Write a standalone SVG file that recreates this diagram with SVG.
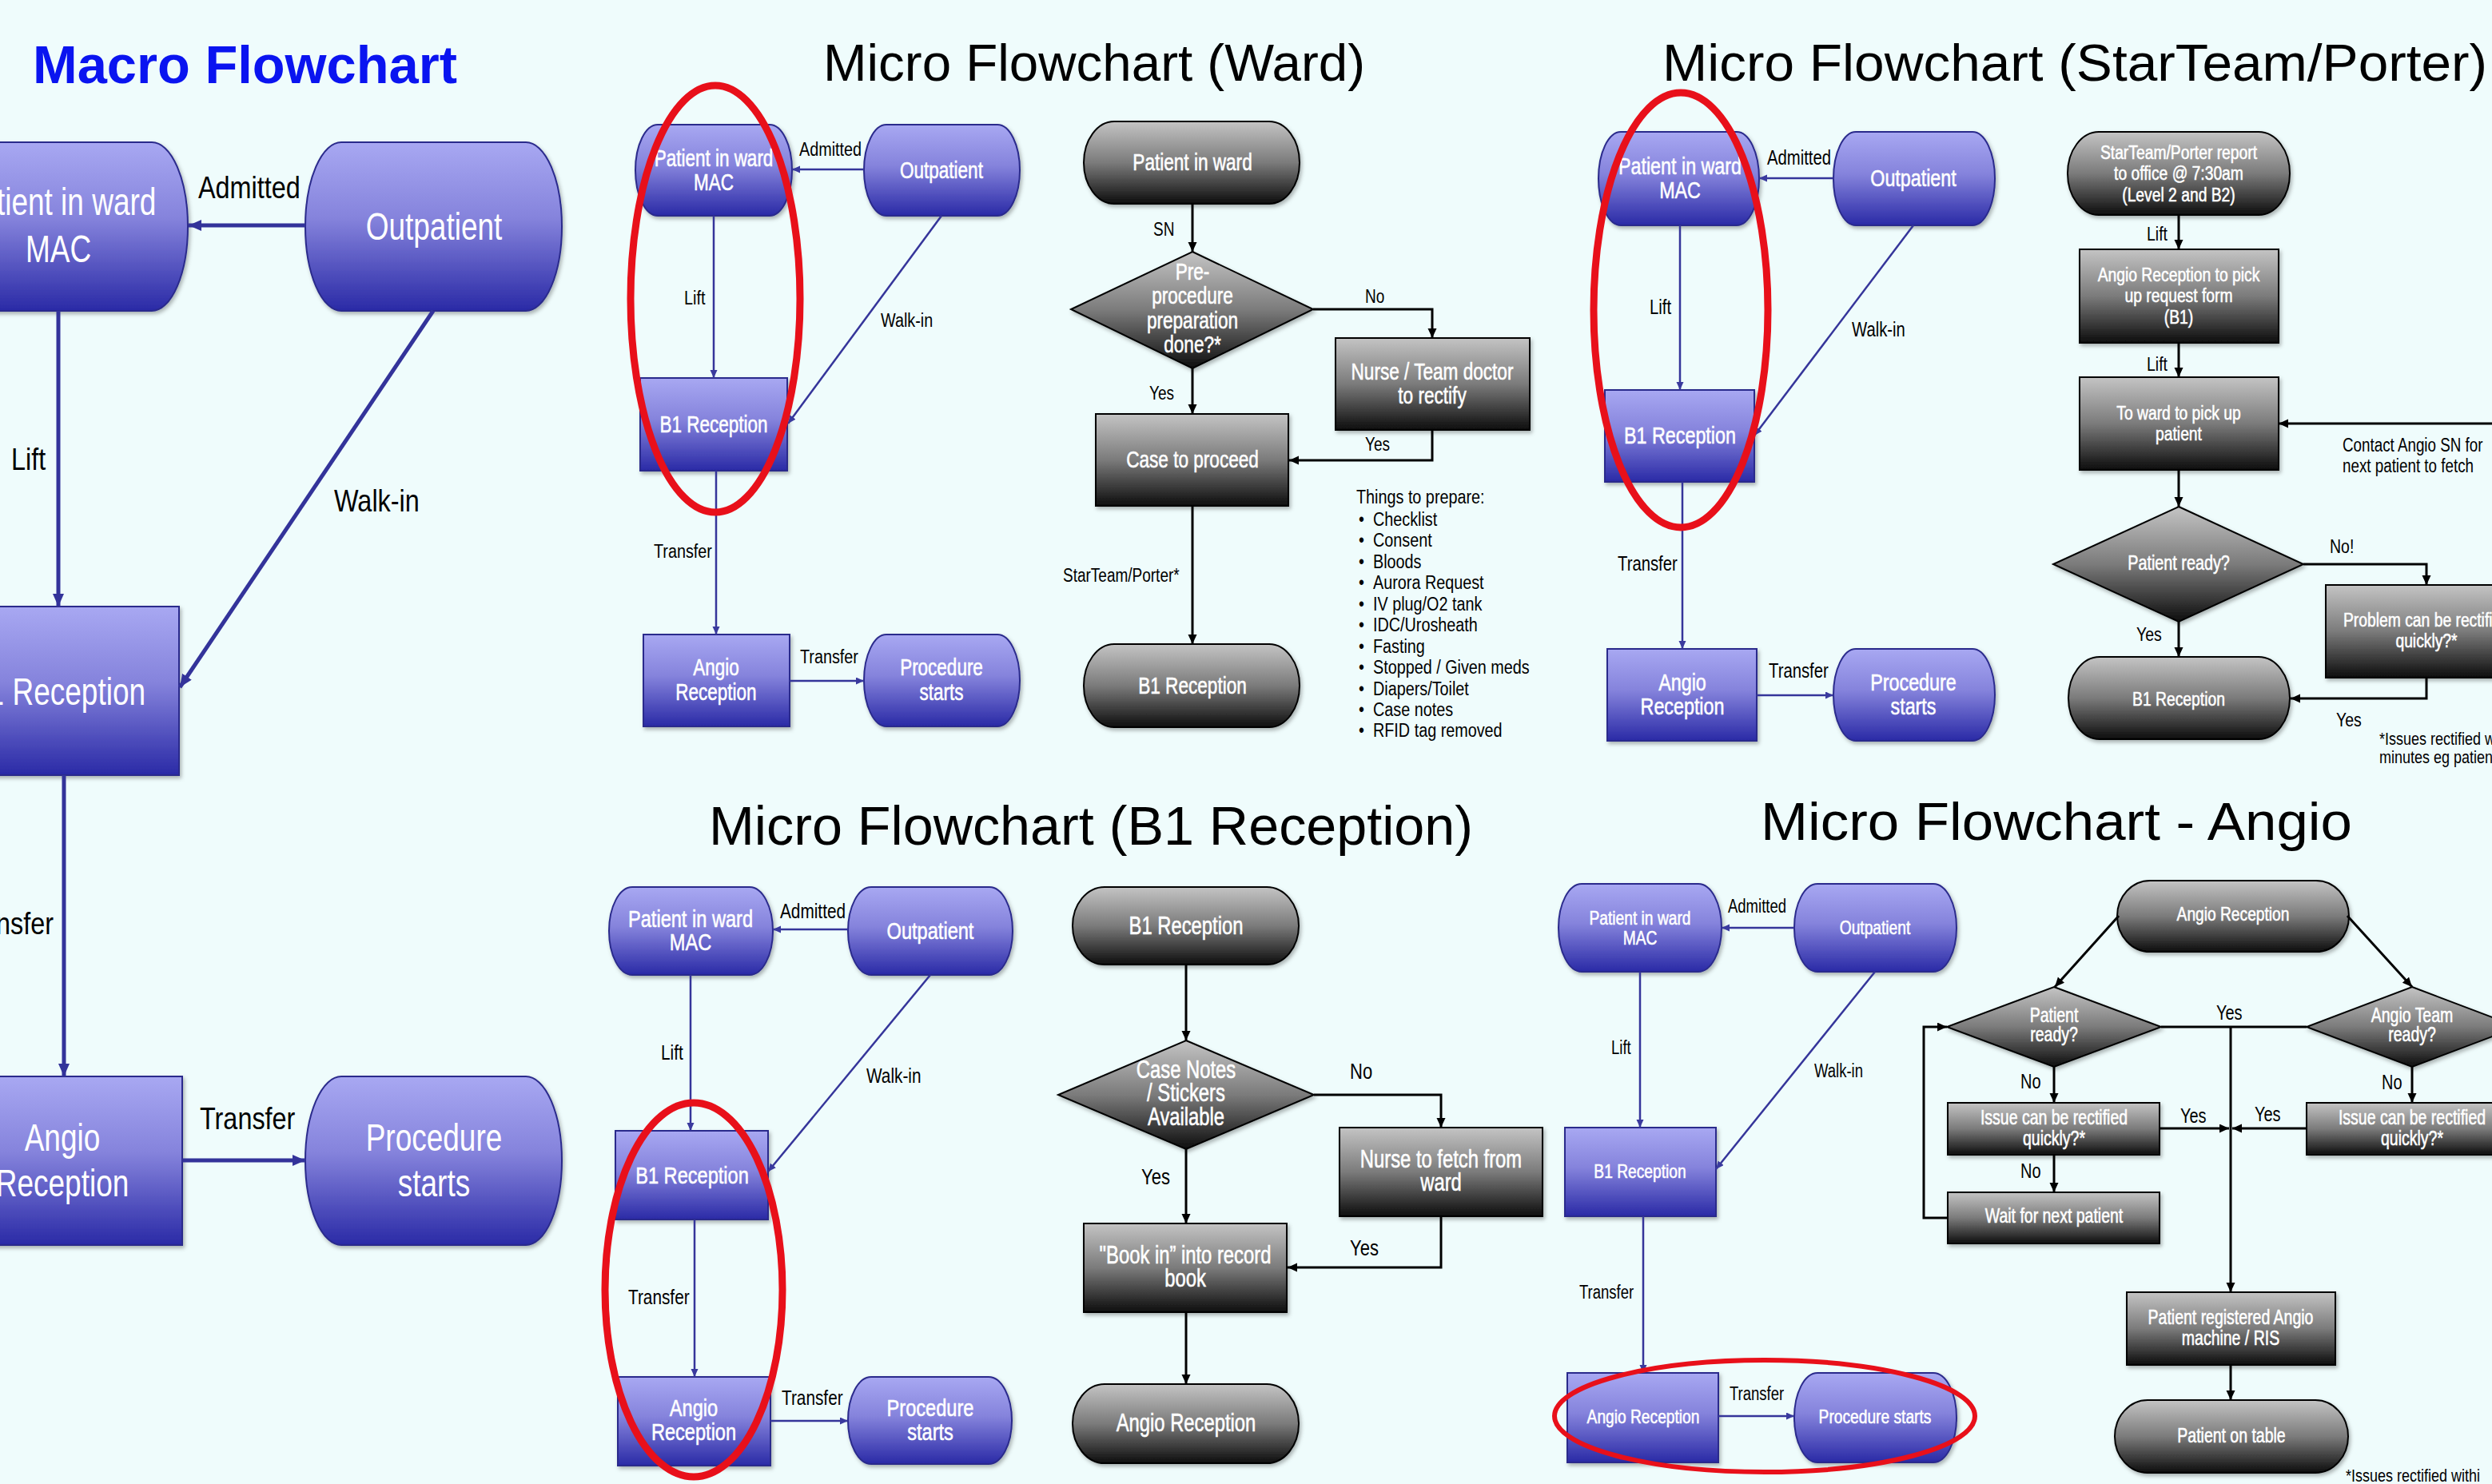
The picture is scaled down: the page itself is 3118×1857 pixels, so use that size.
<svg xmlns="http://www.w3.org/2000/svg" width="3118" height="1857" viewBox="0 0 3118 1857">
<defs>
<linearGradient id="gBlue" x1="0" y1="0" x2="0" y2="1">
<stop offset="0" stop-color="#a8a8f2"/>
<stop offset="0.45" stop-color="#8583dc"/>
<stop offset="1" stop-color="#2a2aa6"/>
</linearGradient>
<linearGradient id="gGrey" x1="0" y1="0" x2="0" y2="1">
<stop offset="0" stop-color="#c4c4c4"/>
<stop offset="0.5" stop-color="#7b7b7b"/>
<stop offset="1" stop-color="#0d0d0d"/>
</linearGradient>
<filter id="shadow" x="-10%" y="-10%" width="125%" height="135%">
<feDropShadow dx="2" dy="3" stdDeviation="2.5" flood-color="#000" flood-opacity="0.3"/>
</filter>
<marker id="arrBlueL" markerUnits="userSpaceOnUse" markerWidth="18" markerHeight="16" refX="16" refY="7" orient="auto"><path d="M0,0 L16,7 L0,14 z" fill="#33339a"/></marker>
<marker id="arrBlue" markerUnits="userSpaceOnUse" markerWidth="12" markerHeight="10" refX="10" refY="4.5" orient="auto"><path d="M0,0 L10,4.5 L0,9 z" fill="#3a3a9e"/></marker>
<marker id="arrBlack" markerUnits="userSpaceOnUse" markerWidth="14" markerHeight="12" refX="12" refY="5.5" orient="auto"><path d="M0,0 L12,5.5 L0,11 z" fill="#000"/></marker>
</defs>
<style>
text{font-family:"Liberation Sans",Arial,Helvetica,sans-serif}
.nb{fill:url(#gBlue);stroke:#2c2c8c;stroke-width:2;filter:url(#shadow)}
.ng{fill:url(#gGrey);stroke:#000;stroke-width:2;filter:url(#shadow)}
.cb{fill:none;stroke:#35359a;stroke-width:2.5;marker-end:url(#arrBlue)}
.cbL{fill:none;stroke:#33339a;stroke-width:5;marker-end:url(#arrBlueL)}
.ck{fill:none;stroke:#000;stroke-width:3;marker-end:url(#arrBlack)}
.ckn{fill:none;stroke:#000;stroke-width:3}
.ring{fill:none;stroke:#e8101a;stroke-width:9}
.w{fill:#fff;text-anchor:middle;stroke:#fff;stroke-width:0.45}
.wm{fill:#fff;text-anchor:middle}
.k{fill:#000}
.ttl{fill:#000}
.f37{font-size:37px}.f32{font-size:32.4px}
.f225{font-size:22.5px}.f226{font-size:22.6px}.f198{font-size:19.8px}.f19{font-size:19px}
.f233{font-size:23.3px}.f203{font-size:20.3px}.f193{font-size:19.3px}.f188{font-size:18.8px}.f18{font-size:18px}
.f236{font-size:23.6px}.f208{font-size:20.8px}.f238{font-size:23.8px}.f22{font-size:22px}
.f192{font-size:19.2px}.f185{font-size:18.5px}.f20{font-size:20px}.f195{font-size:19.5px}
</style>

<!-- page background -->
<rect x="0" y="0" width="3118" height="1857" fill="#effcfc"/>

<!-- ============ Macro flowchart ============ -->
<g id="macro">
<text id="macro-title" x="41" y="104" font-size="66" font-weight="bold" fill="#0a14f0" textLength="531" lengthAdjust="spacingAndGlyphs">Macro Flowchart</text>
<g id="macro-ward"><rect class="nb" x="-88" y="178" width="323" height="211" rx="45" ry="105.5"/><text class="wm f37" transform="translate(73 269) scale(1 1.3)"><tspan x="0">Patient in ward</tspan><tspan x="0" dy="45.4">MAC</tspan></text></g>
<g id="macro-outpatient"><rect class="nb" x="382" y="178" width="321" height="211" rx="45" ry="105.5"/><text class="wm f37" transform="translate(543 300) scale(1 1.3)">Outpatient</text></g>
<g id="macro-b1"><rect class="nb" x="-74" y="759" width="298" height="211"/><text class="wm f37" transform="translate(71 882) scale(1 1.3)">B1 Reception</text></g>
<g id="macro-angio"><rect class="nb" x="-72" y="1347" width="300" height="211"/><text class="wm f37" transform="translate(78 1440) scale(1 1.3)"><tspan x="0">Angio</tspan><tspan x="0" dy="43.8">Reception</tspan></text></g>
<g id="macro-procedure"><rect class="nb" x="382" y="1347" width="321" height="211" rx="45" ry="105.5"/><text class="wm f37" transform="translate(543 1440) scale(1 1.3)"><tspan x="0">Procedure</tspan><tspan x="0" dy="43.8">starts</tspan></text></g>
<g id="macro-connectors">
<path class="cbL" d="M382,282 H236"/>
<path class="cbL" d="M73,389 V759"/>
<path class="cbL" d="M542,389 L225,860"/>
<path class="cbL" d="M80,970 V1347"/>
<path class="cbL" d="M228,1452 H382"/>
<text class="k f32" transform="translate(248 248) scale(1 1.18)">Admitted</text>
<text class="k f32" transform="translate(14 588) scale(1 1.18)">Lift</text>
<text class="k f32" transform="translate(418 640) scale(1 1.18)">Walk-in</text>
<text class="k f32" text-anchor="end" transform="translate(67 1169) scale(1 1.18)">Transfer</text>
<text class="k f32" transform="translate(250 1413) scale(1 1.18)">Transfer</text>
</g>
</g>

<!-- ============ Ward: blue overview ============ -->
<g id="ward">
<text id="ward-title" class="ttl" x="1030" y="101" font-size="65" textLength="678" lengthAdjust="spacingAndGlyphs">Micro Flowchart (Ward)</text>
<g id="ward-mac"><rect class="nb" x="795" y="156" width="196" height="114" rx="28" ry="57"/><text class="w f225" transform="translate(893 208) scale(1 1.28)"><tspan x="0">Patient in ward</tspan><tspan x="0" dy="23.4">MAC</tspan></text></g>
<g id="ward-outpatient"><rect class="nb" x="1081" y="156" width="195" height="114" rx="28" ry="57"/><text class="w f225" transform="translate(1178 223) scale(1 1.28)">Outpatient</text></g>
<g id="ward-b1"><rect class="nb" x="801" y="473" width="184" height="116"/><text class="w f225" transform="translate(893 541) scale(1 1.28)">B1 Reception</text></g>
<g id="ward-angio"><rect class="nb" x="805" y="794" width="183" height="115"/><text class="w f225" transform="translate(896 845) scale(1 1.28)"><tspan x="0">Angio</tspan><tspan x="0" dy="24.2">Reception</tspan></text></g>
<g id="ward-procedure"><rect class="nb" x="1081" y="794" width="195" height="115" rx="28" ry="57.5"/><text class="w f225" transform="translate(1178 845) scale(1 1.28)"><tspan x="0">Procedure</tspan><tspan x="0" dy="24.2">starts</tspan></text></g>
<g id="ward-overview-connectors">
<path class="cb" d="M1081,212 H991"/>
<path class="cb" d="M893,270 V473"/>
<path class="cb" d="M1178,270 L986,530"/>
<path class="cb" d="M896,589 V794"/>
<path class="cb" d="M988,852 H1081"/>
<text class="k f198" transform="translate(1000 195) scale(1 1.25)">Admitted</text>
<text class="k f198" transform="translate(856 381) scale(1 1.25)">Lift</text>
<text class="k f198" transform="translate(1102 409) scale(1 1.25)">Walk-in</text>
<text class="k f198" transform="translate(818 698) scale(1 1.25)">Transfer</text>
<text class="k f198" transform="translate(1001 830) scale(1 1.25)">Transfer</text>
</g>
<ellipse id="ward-highlight" class="ring" cx="895" cy="374" rx="106" ry="267"/>

<!-- ward detail (grey) -->
<g id="ward-start"><rect class="ng" x="1356" y="152" width="270" height="103" rx="38" ry="51.5"/><text class="w f226" transform="translate(1492 213) scale(1 1.28)">Patient in ward</text></g>
<g id="ward-check"><polygon class="ng" points="1492,315 1643,387 1492,461 1340,387"/><text class="w f226" transform="translate(1492 350) scale(1 1.28)"><tspan x="0">Pre-</tspan><tspan x="0" dy="23.7">procedure</tspan><tspan x="0" dy="23.7">preparation</tspan><tspan x="0" dy="23.7">done?*</tspan></text></g>
<g id="ward-rectify"><rect class="ng" x="1671" y="423" width="243" height="115"/><text class="w f226" transform="translate(1792 475) scale(1 1.28)"><tspan x="0">Nurse / Team doctor</tspan><tspan x="0" dy="23.4">to rectify</tspan></text></g>
<g id="ward-proceed"><rect class="ng" x="1371" y="518" width="241" height="115"/><text class="w f226" transform="translate(1492 585) scale(1 1.28)">Case to proceed</text></g>
<g id="ward-end"><rect class="ng" x="1356" y="806" width="270" height="104" rx="38" ry="52"/><text class="w f226" transform="translate(1492 868) scale(1 1.28)">B1 Reception</text></g>
<g id="ward-detail-connectors">
<path class="ck" d="M1492,255 V315"/>
<path class="ck" d="M1643,387 H1792 V423"/>
<path class="ck" d="M1792,538 V576 H1613"/>
<path class="ck" d="M1492,461 V518"/>
<path class="ck" d="M1492,633 V806"/>
<text class="k f19" transform="translate(1443 295) scale(1 1.28)">SN</text>
<text class="k f19" transform="translate(1708 379) scale(1 1.25)">No</text>
<text class="k f19" transform="translate(1708 564) scale(1 1.25)">Yes</text>
<text class="k f19" transform="translate(1438 500) scale(1 1.25)">Yes</text>
<text class="k f19" transform="translate(1330 728) scale(1 1.25)">StarTeam/Porter*</text>
</g>
<g id="ward-checklist">
<text class="k f198" transform="translate(1697 630) scale(1 1.17)">Things to prepare:</text>
<text class="k f198" transform="translate(1700 658) scale(1 1.17)"><tspan x="0">•</tspan><tspan x="0" dy="22.6">•</tspan><tspan x="0" dy="22.6">•</tspan><tspan x="0" dy="22.6">•</tspan><tspan x="0" dy="22.6">•</tspan><tspan x="0" dy="22.6">•</tspan><tspan x="0" dy="22.6">•</tspan><tspan x="0" dy="22.6">•</tspan><tspan x="0" dy="22.6">•</tspan><tspan x="0" dy="22.6">•</tspan><tspan x="0" dy="22.6">•</tspan></text>
<text class="k f198" transform="translate(1718 658) scale(1 1.17)"><tspan x="0">Checklist</tspan><tspan x="0" dy="22.6">Consent</tspan><tspan x="0" dy="22.6">Bloods</tspan><tspan x="0" dy="22.6">Aurora Request</tspan><tspan x="0" dy="22.6">IV plug/O2 tank</tspan><tspan x="0" dy="22.6">IDC/Urosheath</tspan><tspan x="0" dy="22.6">Fasting</tspan><tspan x="0" dy="22.6">Stopped / Given meds</tspan><tspan x="0" dy="22.6">Diapers/Toilet</tspan><tspan x="0" dy="22.6">Case notes</tspan><tspan x="0" dy="22.6">RFID tag removed</tspan></text>
</g>
</g>

<!-- ============ StarTeam / Porter ============ -->
<g id="starteam">
<text id="starteam-title" class="ttl" x="2080" y="101" font-size="64" textLength="1032" lengthAdjust="spacingAndGlyphs">Micro Flowchart (StarTeam/Porter)</text>
<g id="st-mac"><rect class="nb" x="2000" y="165" width="201" height="117" rx="28" ry="58.5"/><text class="w f233" transform="translate(2102 218) scale(1 1.28)"><tspan x="0">Patient in ward</tspan><tspan x="0" dy="23.4">MAC</tspan></text></g>
<g id="st-outpatient"><rect class="nb" x="2294" y="165" width="202" height="117" rx="28" ry="58.5"/><text class="w f233" transform="translate(2394 233) scale(1 1.28)">Outpatient</text></g>
<g id="st-b1"><rect class="nb" x="2008" y="488" width="187" height="115"/><text class="w f233" transform="translate(2102 555) scale(1 1.28)">B1 Reception</text></g>
<g id="st-angio"><rect class="nb" x="2011" y="812" width="187" height="115"/><text class="w f233" transform="translate(2105 864) scale(1 1.28)"><tspan x="0">Angio</tspan><tspan x="0" dy="23.4">Reception</tspan></text></g>
<g id="st-procedure"><rect class="nb" x="2294" y="812" width="202" height="115" rx="28" ry="57.5"/><text class="w f233" transform="translate(2394 864) scale(1 1.28)"><tspan x="0">Procedure</tspan><tspan x="0" dy="23.4">starts</tspan></text></g>
<g id="st-overview-connectors">
<path class="cb" d="M2294,223 H2201"/>
<path class="cb" d="M2102,282 V488"/>
<path class="cb" d="M2394,282 L2195,545"/>
<path class="cb" d="M2105,603 V812"/>
<path class="cb" d="M2198,870 H2294"/>
<text class="k f203" transform="translate(2211 206) scale(1 1.25)">Admitted</text>
<text class="k f203" transform="translate(2064 393) scale(1 1.25)">Lift</text>
<text class="k f203" transform="translate(2317 421) scale(1 1.25)">Walk-in</text>
<text class="k f203" transform="translate(2024 714) scale(1 1.25)">Transfer</text>
<text class="k f203" transform="translate(2213 848) scale(1 1.25)">Transfer</text>
</g>
<ellipse id="st-highlight" class="ring" cx="2103" cy="388" rx="109" ry="272"/>

<!-- porter detail (grey) -->
<g id="st-start"><rect class="ng" x="2587" y="165" width="278" height="104" rx="39" ry="52"/><text class="w f193" transform="translate(2726 199) scale(1 1.28)"><tspan x="0">StarTeam/Porter report</tspan><tspan x="0" dy="20.7">to office @ 7:30am</tspan><tspan x="0" dy="20.7">(Level 2 and B2)</tspan></text></g>
<g id="st-request"><rect class="ng" x="2602" y="312" width="249" height="117"/><text class="w f193" transform="translate(2726 352) scale(1 1.28)"><tspan x="0">Angio Reception to pick</tspan><tspan x="0" dy="20.7">up request form</tspan><tspan x="0" dy="20.7">(B1)</tspan></text></g>
<g id="st-pickup"><rect class="ng" x="2602" y="472" width="249" height="116"/><text class="w f193" transform="translate(2726 525) scale(1 1.28)"><tspan x="0">To ward to pick up</tspan><tspan x="0" dy="20.3">patient</tspan></text></g>
<g id="st-ready"><polygon class="ng" points="2726,634 2882,706 2726,778 2569,706"/><text class="w f198" transform="translate(2726 713) scale(1 1.28)">Patient ready?</text></g>
<g id="st-problem"><rect class="ng" x="2910" y="732" width="252" height="116"/><text class="w f193" transform="translate(3036 784) scale(1 1.28)"><tspan x="0">Problem can be rectified</tspan><tspan x="0" dy="20.3">quickly?*</tspan></text></g>
<g id="st-end"><rect class="ng" x="2588" y="822" width="277" height="103" rx="39" ry="51.5"/><text class="w f193" transform="translate(2726 883) scale(1 1.28)">B1 Reception</text></g>
<g id="st-detail-connectors">
<path class="ck" d="M2726,269 V312"/>
<path class="ck" d="M2726,429 V472"/>
<path class="ck" d="M2726,588 V634"/>
<path class="ck" d="M2882,706 H3036 V732"/>
<path class="ck" d="M3036,848 V874 H2866"/>
<path class="ck" d="M3120,530 H2851"/>
<path class="ck" d="M2726,778 V822"/>
<text class="k f195" transform="translate(2686 301) scale(1 1.25)">Lift</text>
<text class="k f195" transform="translate(2686 464) scale(1 1.25)">Lift</text>
<text class="k f195" transform="translate(2915 692) scale(1 1.25)">No!</text>
<text class="k f195" transform="translate(2673 802) scale(1 1.25)">Yes</text>
<text class="k f195" transform="translate(2923 909) scale(1 1.25)">Yes</text>
<text class="k f188" transform="translate(2931 565) scale(1 1.25)"><tspan x="0">Contact Angio SN for</tspan><tspan x="0" dy="20.8">next patient to fetch</tspan></text>
</g>
<text id="st-footnote" class="k f18" transform="translate(2977 932) scale(1 1.2)"><tspan x="0">*Issues rectified w</tspan><tspan x="0" dy="19">minutes eg patien</tspan></text>
</g>

<!-- ============ B1 Reception ============ -->
<g id="b1">
<text id="b1-title" class="ttl" x="887" y="1057" font-size="68" textLength="956" lengthAdjust="spacingAndGlyphs">Micro Flowchart (B1 Reception)</text>
<g id="b1-mac"><rect class="nb" x="762" y="1110" width="205" height="110" rx="29" ry="55"/><text class="w f236" transform="translate(864 1160) scale(1 1.28)"><tspan x="0">Patient in ward</tspan><tspan x="0" dy="22.7">MAC</tspan></text></g>
<g id="b1-outpatient"><rect class="nb" x="1061" y="1110" width="206" height="110" rx="29" ry="55"/><text class="w f236" transform="translate(1164 1175) scale(1 1.28)">Outpatient</text></g>
<g id="b1-b1"><rect class="nb" x="770" y="1415" width="191" height="111"/><text class="w f236" transform="translate(866 1481) scale(1 1.28)">B1 Reception</text></g>
<g id="b1-angio"><rect class="nb" x="773" y="1723" width="191" height="111"/><text class="w f236" transform="translate(868 1772) scale(1 1.28)"><tspan x="0">Angio</tspan><tspan x="0" dy="23.4">Reception</tspan></text></g>
<g id="b1-procedure"><rect class="nb" x="1061" y="1723" width="205" height="109" rx="29" ry="54.5"/><text class="w f236" transform="translate(1164 1772) scale(1 1.28)"><tspan x="0">Procedure</tspan><tspan x="0" dy="23.4">starts</tspan></text></g>
<g id="b1-overview-connectors">
<path class="cb" d="M1061,1163 H967"/>
<path class="cb" d="M864,1220 V1415"/>
<path class="cb" d="M1164,1220 L961,1466"/>
<path class="cb" d="M869,1526 V1723"/>
<path class="cb" d="M964,1778 H1061"/>
<text class="k f208" transform="translate(976 1149) scale(1 1.25)">Admitted</text>
<text class="k f208" transform="translate(827 1326) scale(1 1.25)">Lift</text>
<text class="k f208" transform="translate(1084 1355) scale(1 1.25)">Walk-in</text>
<text class="k f208" transform="translate(786 1632) scale(1 1.25)">Transfer</text>
<text class="k f208" transform="translate(978 1758) scale(1 1.25)">Transfer</text>
</g>
<ellipse id="b1-highlight" class="ring" cx="868" cy="1614" rx="111" ry="234"/>

<!-- reception detail (grey) -->
<g id="b1-start"><rect class="ng" x="1342" y="1110" width="283" height="97" rx="40" ry="48.5"/><text class="w f238" transform="translate(1484 1169) scale(1 1.28)">B1 Reception</text></g>
<g id="b1-notes"><polygon class="ng" points="1484,1302 1644,1370 1484,1438 1324,1370"/><text class="w f238" transform="translate(1484 1349) scale(1 1.28)"><tspan x="0">Case Notes</tspan><tspan x="0" dy="23">/ Stickers</tspan><tspan x="0" dy="23">Available</tspan></text></g>
<g id="b1-fetch"><rect class="ng" x="1676" y="1411" width="254" height="111"/><text class="w f238" transform="translate(1803 1461) scale(1 1.28)"><tspan x="0">Nurse to fetch from</tspan><tspan x="0" dy="22.7">ward</tspan></text></g>
<g id="b1-book"><rect class="ng" x="1356" y="1531" width="254" height="111"/><text class="w f238" transform="translate(1483 1581) scale(1 1.28)"><tspan x="0">"Book in” into record</tspan><tspan x="0" dy="22.7">book</tspan></text></g>
<g id="b1-end"><rect class="ng" x="1342" y="1732" width="283" height="99" rx="40" ry="49.5"/><text class="w f238" transform="translate(1484 1791) scale(1 1.28)">Angio Reception</text></g>
<g id="b1-detail-connectors">
<path class="ck" d="M1484,1207 V1302"/>
<path class="ck" d="M1644,1370 H1803 V1411"/>
<path class="ck" d="M1803,1522 V1586 H1611"/>
<path class="ck" d="M1484,1438 V1531"/>
<path class="ck" d="M1484,1642 V1732"/>
<text class="k f22" transform="translate(1689 1350) scale(1 1.25)">No</text>
<text class="k f22" transform="translate(1689 1571) scale(1 1.25)">Yes</text>
<text class="k f22" transform="translate(1428 1482) scale(1 1.25)">Yes</text>
</g>
</g>

<!-- ============ Angio ============ -->
<g id="angio">
<text id="angio-title" class="ttl" x="2203" y="1051" font-size="67" textLength="740" lengthAdjust="spacingAndGlyphs">Micro Flowchart - Angio</text>
<g id="an-mac"><rect class="nb" x="1950" y="1106" width="204" height="110" rx="29" ry="55"/><text class="w f192" transform="translate(2052 1157) scale(1 1.28)"><tspan x="0">Patient in ward</tspan><tspan x="0" dy="19.5">MAC</tspan></text></g>
<g id="an-outpatient"><rect class="nb" x="2245" y="1106" width="203" height="110" rx="29" ry="55"/><text class="w f192" transform="translate(2346 1169) scale(1 1.28)">Outpatient</text></g>
<g id="an-b1"><rect class="nb" x="1958" y="1411" width="189" height="111"/><text class="w f192" transform="translate(2052 1474) scale(1 1.28)">B1 Reception</text></g>
<g id="an-angio"><rect class="nb" x="1961" y="1718" width="189" height="112"/><text class="w f192" transform="translate(2056 1781) scale(1 1.28)">Angio Reception</text></g>
<g id="an-procedure"><rect class="nb" x="2245" y="1718" width="203" height="112" rx="29" ry="56"/><text class="w f192" transform="translate(2346 1781) scale(1 1.28)">Procedure starts</text></g>
<g id="an-overview-connectors">
<path class="cb" d="M2245,1161 H2154"/>
<path class="cb" d="M2052,1216 V1411"/>
<path class="cb" d="M2346,1216 L2147,1463"/>
<path class="cb" d="M2056,1522 V1718"/>
<path class="cb" d="M2150,1772 H2245"/>
<text class="k f185" transform="translate(2162 1142) scale(1 1.25)">Admitted</text>
<text class="k f185" transform="translate(2016 1319) scale(1 1.25)">Lift</text>
<text class="k f185" transform="translate(2270 1348) scale(1 1.25)">Walk-in</text>
<text class="k f185" transform="translate(1976 1625) scale(1 1.25)">Transfer</text>
<text class="k f185" transform="translate(2164 1752) scale(1 1.25)">Transfer</text>
</g>
<ellipse id="an-highlight" class="ring" style="stroke-width:6" cx="2208" cy="1772" rx="263" ry="70"/>

<!-- angio detail (grey) -->
<g id="an-start"><rect class="ng" x="2649" y="1102" width="290" height="89" rx="41" ry="44.5"/><text class="w f192" transform="translate(2794 1152) scale(1 1.28)">Angio Reception</text></g>
<g id="an-patient-ready"><polygon class="ng" points="2570,1235 2704,1285 2570,1335 2436,1285"/><text class="w f195" transform="translate(2570 1279) scale(1 1.28)"><tspan x="0">Patient</tspan><tspan x="0" dy="18.75">ready?</tspan></text></g>
<g id="an-team-ready"><polygon class="ng" points="3018,1235 3150,1285 3018,1335 2886,1285"/><text class="w f195" transform="translate(3018 1279) scale(1 1.28)"><tspan x="0">Angio Team</tspan><tspan x="0" dy="18.75">ready?</tspan></text></g>
<g id="an-issue-left"><rect class="ng" x="2437" y="1380" width="265" height="65"/><text class="w f195" transform="translate(2570 1407) scale(1 1.28)"><tspan x="0">Issue can be rectified</tspan><tspan x="0" dy="20.3">quickly?*</tspan></text></g>
<g id="an-issue-right"><rect class="ng" x="2886" y="1380" width="264" height="65"/><text class="w f195" transform="translate(3018 1407) scale(1 1.28)"><tspan x="0">Issue can be rectified</tspan><tspan x="0" dy="20.3">quickly?*</tspan></text></g>
<g id="an-wait"><rect class="ng" x="2437" y="1492" width="265" height="64"/><text class="w f195" transform="translate(2570 1530) scale(1 1.28)">Wait for next patient</text></g>
<g id="an-register"><rect class="ng" x="2661" y="1617" width="261" height="91"/><text class="w f195" transform="translate(2791 1657) scale(1 1.28)"><tspan x="0">Patient registered Angio</tspan><tspan x="0" dy="20.3">machine / RIS</tspan></text></g>
<g id="an-end"><rect class="ng" x="2646" y="1752" width="292" height="91" rx="41" ry="45.5"/><text class="w f195" transform="translate(2792 1805) scale(1 1.28)">Patient on table</text></g>
<g id="an-detail-connectors">
<path class="ck" d="M2651,1146 L2571,1235"/>
<path class="ck" d="M2937,1146 L3018,1235"/>
<path class="ckn" d="M2704,1285 H2886"/>
<path class="ck" d="M2791,1285 V1617"/>
<path class="ck" d="M2570,1335 V1380"/>
<path class="ck" d="M3018,1335 V1380"/>
<path class="ck" d="M2702,1412 H2789"/>
<path class="ck" d="M2886,1412 H2793"/>
<path class="ck" d="M2570,1445 V1492"/>
<path class="ck" d="M2437,1524 H2407 V1285 H2436"/>
<path class="ck" d="M2791,1708 V1752"/>
<text class="k f20" transform="translate(2773 1276) scale(1 1.25)">Yes</text>
<text class="k f20" transform="translate(2528 1362) scale(1 1.25)">No</text>
<text class="k f20" transform="translate(2980 1363) scale(1 1.25)">No</text>
<text class="k f20" transform="translate(2728 1405) scale(1 1.25)">Yes</text>
<text class="k f20" transform="translate(2821 1403) scale(1 1.25)">Yes</text>
<text class="k f20" transform="translate(2528 1474) scale(1 1.25)">No</text>
</g>
<text id="an-footnote" class="k f18" transform="translate(2935 1854) scale(1 1.2)">*Issues rectified withi</text>
</g>
</svg>
